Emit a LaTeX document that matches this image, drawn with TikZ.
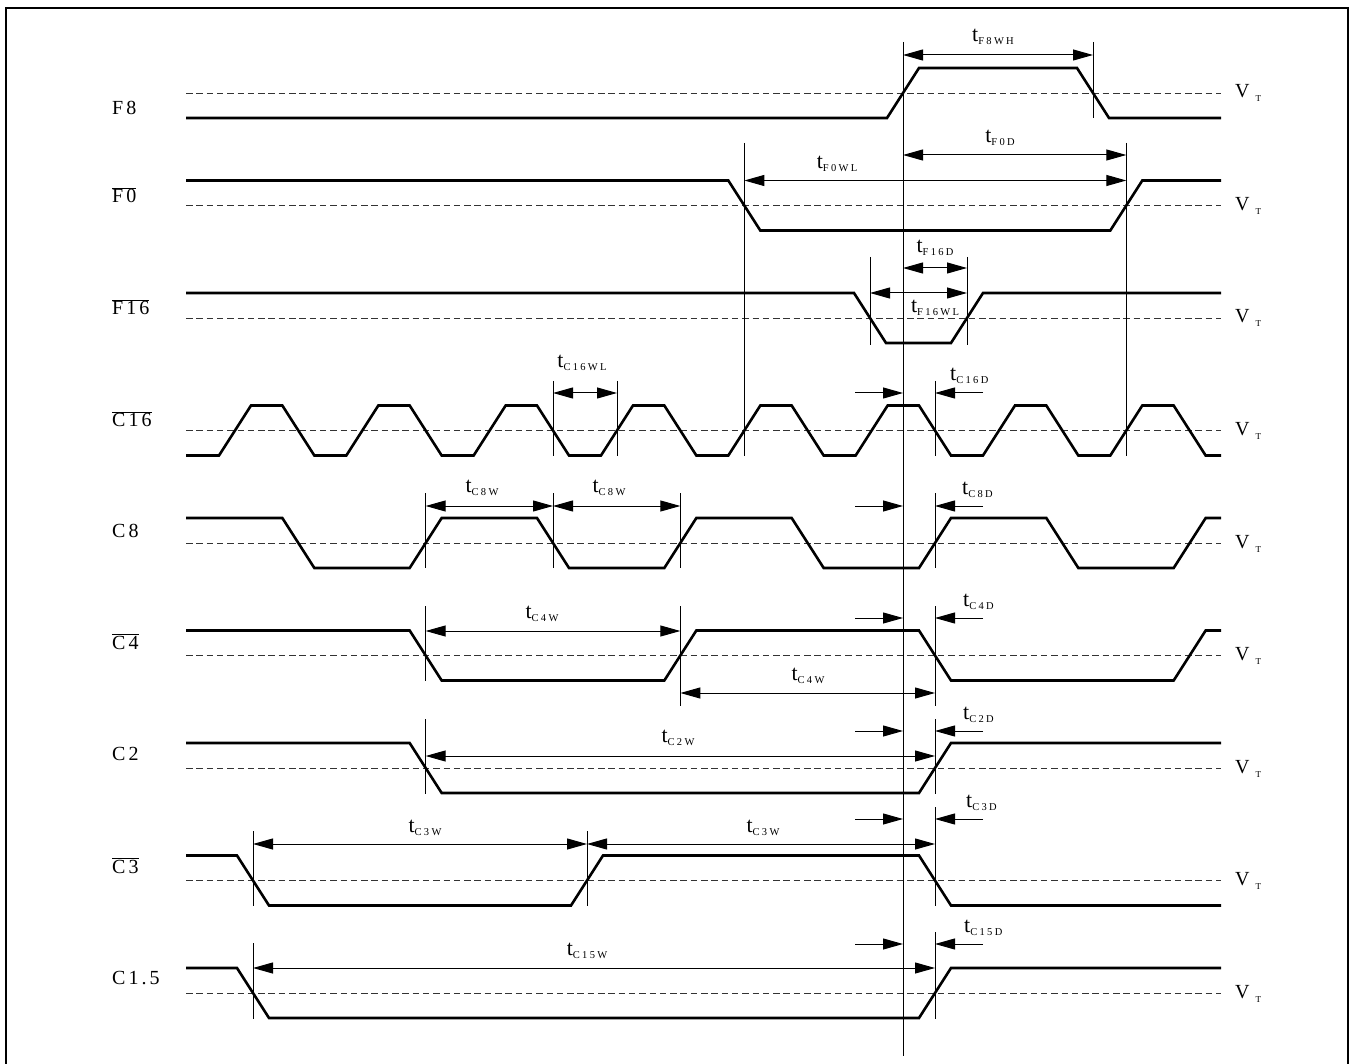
\documentclass[tikz,border=0pt]{standalone}
\usepackage{fontspec}
\setmainfont{Liberation Serif}
\newfontfamily\sigfont[LetterSpace=15]{Liberation Serif}
\newfontfamily\subfont[LetterSpace=22]{Liberation Serif}
\usetikzlibrary{arrows.meta,calc}
\tikzstyle{wave} = [line width=2.6pt, line join=miter]
\tikzstyle{vref} = [line width=0.9pt, black!80, dash pattern=on 6.5pt off 3.8pt]
\tikzstyle{guide} = [line width=1pt]
\tikzstyle{dim} = [line width=1pt,
{Triangle[length=20pt,width=11pt]}-{Triangle[length=20pt,width=11pt]}]
\tikzstyle{dimto} = [line width=1pt, -{Triangle[length=20pt,width=11pt]}]
\tikzstyle{lbl} = [inner sep=0pt, font=\fontsize{20}{22}\selectfont]
\newcommand\tlab[1]{{\fontsize{22}{24}\selectfont t}\lower3pt\hbox{\subfont\fontsize{10.5}{10.5}\selectfont #1}}
\newcommand\vt{V\kern6pt\lower4pt\hbox{\fontsize{9}{9}\selectfont T}}
\newcommand\ovl[1]{$\overline{\hbox{#1}}$}

\begin{document}
\begin{tikzpicture}[x=1pt,y=-1pt]
        \useasboundingbox (0,0) rectangle (1350,1064);
        \draw[line width=1.2pt] (6,1064) -- (6,8) -- (1348,8) -- (1348,1064);
        % names, thresholds
        \foreach \name/\base [count=\k from 0] in
          {F8/115,\ovl{F0}/203,\ovl{F16}/315,\ovl{C16}/427,C8/537,
           \ovl{C4}/649,C2/760,\ovl{C3}/873,C1.5/984}
          {\pgfmathsetmacro{\d}{93+112.5*\k}
        \draw[vref] (186,\d) -- (1221,\d);
        \node[lbl,anchor=base west] (name-\k) at (112,\base) {\sigfont\name};
        \node[lbl,anchor=base west] (vt-\k) at (1235,\d+5) {\vt};
        }
        \draw[wave] (186,118) -- (887,118) -- (919,68) -- (1077,68) -- (1109,118) -- (1221,118);
        \draw[wave] (186,180.5) -- (728.3,180.5) -- (760.3,230.5) -- (1110.3,230.5)
          -- (1142.3,180.5) -- (1221,180.5);
        \draw[wave] (186,293) -- (854,293) -- (886,343) -- (951,343) -- (983,293) -- (1221,293);
        \draw[wave] (186,455.5) foreach \i in {0,...,7}
          { -- ({219+127.33*\i},455.5) -- ({251+127.33*\i},405.5)
            -- ({282.33+127.33*\i},405.5) -- ({314.33+127.33*\i},455.5) } -- (1221,455.5);
        \draw[wave] (186,518) foreach \i in {0,...,3}
          { -- ({282.33+254.67*\i},518) -- ({314.33+254.67*\i},568)
            -- ({409.67+254.67*\i},568) -- ({441.67+254.67*\i},518) } -- (1221,518);
        \draw[wave] (186,630.5) foreach \i in {0,1}
          { -- ({409.67+509.33*\i},630.5) -- ({441.67+509.33*\i},680.5)
            -- ({664.33+509.33*\i},680.5) -- ({696.33+509.33*\i},630.5) } -- (1221,630.5);
        \draw[wave] (186,743) -- (409.67,743) -- (441.67,793) -- (919,793) -- (951,743) -- (1221,743);
        \draw[wave] (186,855.5) -- (237,855.5) -- (269,905.5) -- (571,905.5) -- (603,855.5)
          -- (919,855.5) -- (951,905.5) -- (1221,905.5);
        \draw[wave] (186,968) -- (237,968) -- (269,1018) -- (919,1018) -- (951,968) -- (1221,968);
        % edge markers
        \draw[guide] (903,42) -- (903,1056);
        \draw[guide] (1093,42) -- (1093,118);
        \foreach \x in {744.33,1126.33} \draw[guide] (\x,143) -- (\x,456);
        \foreach \x in {870,967} \draw[guide] (\x,257) -- (\x,345);
        \foreach \x in {553,617} \draw[guide] (\x,381) -- (\x,456);
        \foreach \x in {425.67,553,680.33} \draw[guide] (\x,493) -- (\x,568);
        \draw[guide] (425.67,606) -- (425.67,681);
        \draw[guide] (680.33,606) -- (680.33,706);
        \draw[guide] (425.67,719) -- (425.67,794);
        \foreach \x in {253,587} \draw[guide] (\x,831) -- (\x,906);
        \draw[guide] (253,943) -- (253,1019);
        % delays
        \foreach \y/\top/\bot/\tx/\lab in
          {393/381/456/950/C16D,506/493/568/962/C8D,618/606/706/963/C4D,
           731/719/794/963/C2D,819/807/906/966/C3D,944/932/1019/964/C15D}
          {\draw[guide] (935,\top) -- (935,\bot);
        \draw[dimto] (855,\y) -- (903,\y);
        \draw[dimto] (983,\y) -- (935,\y);
        \node[lbl,anchor=base west] (t-\lab) at (\tx,\y-12) {\tlab{\lab}};
        }
        % widths
        \foreach \xa/\xb/\y/\xl/\yl/\lab [count=\n] in
          {903/1093/55/993/42/F8WH,903/1126.33/155/1000/143/F0D,
           744.33/1126.33/180.5/837/169/F0WL,903/967/268/935/253/F16D,
           870/967/293/935/313/F16WL,553/617/393/582/368/C16WL,
           425.67/553/506/482/493/C8W,553/680.33/506/609/493/C8W,
           425.67/680.33/631/542/618/C4W,680.33/935/693/808/680/C4W,
           425.67/935/756/678/742/C2W,253/587/844/425/832/C3W,
           587/935/844/763/832/C3W,253/935/968/587/955/C15W}
          {\draw[dim] (\xa,\y) -- (\xb,\y);
        \node[lbl,anchor=base] (w-\n) at (\xl,\yl) {\tlab{\lab}};
        }
\end{tikzpicture}
\end{document}
